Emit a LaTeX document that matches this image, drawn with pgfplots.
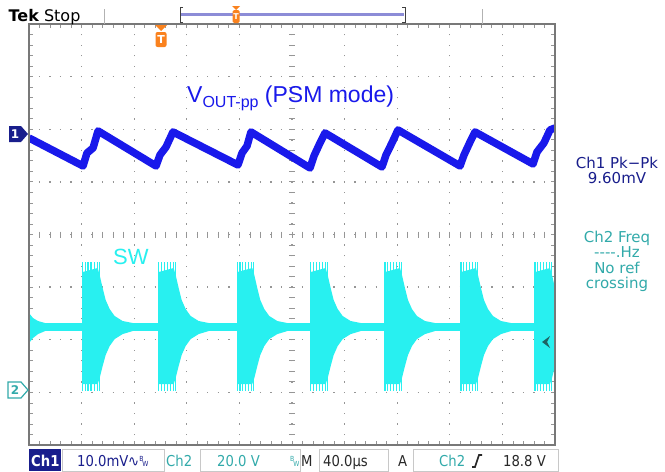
\documentclass[border=0pt]{standalone}
\usepackage{fontspec}
\setmainfont{Liberation Sans}
\newfontfamily\tekfont{DejaVu Sans}
\newfontfamily\teknarrow{DejaVu Sans}[FakeStretch=0.88]
\usepackage{pgfplots}
\pgfplotsset{compat=1.18}
\usepackage{pgfplotstable}

\definecolor{trace1}{RGB}{25,25,235}
\definecolor{trace2}{RGB}{40,240,240}
\definecolor{navy}{RGB}{25,30,140}
\definecolor{teal2}{RGB}{50,170,170}
\definecolor{darkteal}{RGB}{30,100,100}
\definecolor{tekorange}{RGB}{250,130,30}
\definecolor{gridgray}{RGB}{150,150,150}
\definecolor{framegray}{RGB}{120,120,120}
\definecolor{barblue}{RGB}{140,140,215}
\definecolor{boxgray}{RGB}{200,200,200}
\definecolor{txtdark}{RGB}{40,40,40}

% Ch1: output ripple (time in us, vertical in divisions)
\pgfplotstableread{
t y
0 1.835
41.1 1.302
44.1 1.549
48.7 1.644
52.5 1.968
96.6 1.302
99.6 1.511
104.2 1.663
109.5 1.949
158.9 1.321
162.0 1.549
165.8 1.682
168.8 1.949
213.7 1.264
216.7 1.492
221.3 1.740
225.1 1.930
268.4 1.283
271.5 1.511
276.0 1.740
280.6 1.987
327.8 1.302
330.8 1.511
335.4 1.759
339.2 1.949
383.3 1.340
386.3 1.568
391.6 1.740
396.2 1.987
400 2.025
}\chone

% Ch2: envelope of one switching burst (dt from burst start, in us)
\pgfplotstableread{
dt y
0 -0.713
11.41 -0.637
12.93 -0.770
15.21 -1.017
17.49 -1.245
20.53 -1.416
24.33 -1.549
30.42 -1.644
38.02 -1.682
38.02 -1.835
30.42 -1.892
24.33 -1.987
20.53 -2.120
17.49 -2.291
15.21 -2.500
12.93 -2.728
11.41 -2.842
0 -2.842
}\burst

% Ch2: full-height spikes at the start of each burst
\pgfplotstableread{
dt y e
0 -1.749 1.226
2.05 -1.749 1.226
4.18 -1.749 1.226
6.46 -1.749 1.226
8.75 -1.749 1.226
11.03 -1.749 1.226
12.55 -1.749 1.226
}\spikes

\begin{document}
\begin{tikzpicture}
\useasboundingbox (0,0) rectangle (665bp,-472bp);
\fill[white] (0,0) rectangle (665bp,-472bp);

% centre-line cross ticks of the graticule
\foreach \k in {0,...,50} {\draw[gridgray, line width=0.8bp] (29bp+\k*10.52bp,-231.5bp) -- ++(0,-6bp);}
\foreach \k in {0,...,40} {\draw[gridgray, line width=0.8bp] (289bp,-24bp-\k*10.525bp) -- ++(6bp,0);}

\begin{axis}[
  at={(29bp,-445bp)}, anchor=south west,
  scale only axis, width=526bp, height=421bp,
  xmin=0, xmax=400, ymin=-4, ymax=4,
  xtick={0,40,...,400}, ytick={-4,-3,...,4},
  minor x tick num=4, minor y tick num=4,
  xticklabels={}, yticklabels={},
  tick align=inside, major tick length=4bp, minor tick length=4bp,
  every tick/.style={gridgray, line width=0.8bp},
  grid=major,
  major grid style={gridgray, line width=1.3bp, dash pattern=on 1.3bp off 9.22bp, dash phase=0.65bp},
  axis line style={framegray, line width=2.5bp},
]
% Ch2 baseline
\addplot[trace2, line width=8bp] coordinates {(0,-1.753) (400,-1.753)};
% ringing at left edge
\addplot[fill=trace2, draw=none] coordinates {(0,-1.492) (3.04,-1.587) (6.84,-1.644) (12.17,-1.682) (12.17,-1.835) (6.84,-1.892) (3.04,-1.968) (0,-2.063)};
% bursts
\pgfplotsinvokeforeach{40.8,98.6,158.4,214.2,270.7,328.5,384.8}{
  \addplot[fill=trace2, draw=none] table[x expr=\thisrow{dt}+#1, y=y]{\burst};
  \addplot[trace2, only marks, mark=none, error bars/.cd, y dir=both, y explicit,
           error mark=none, error bar style={trace2, line width=1.3bp}]
     table[x expr=\thisrow{dt}+#1, y=y, y error=e]{\spikes};
}
% Ch1 ripple
\addplot[trace1, line width=7.5bp, line join=round] table[x=t, y=y]{\chone};
\end{axis}

% frame
\draw[framegray, line width=2.5bp] (29bp,-24bp) rectangle (555bp,-445bp);

% top bar
\node[anchor=base west, inner sep=0, text=black, font=\tekfont\fontsize{16bp}{16bp}\selectfont] at (8.5bp,-21bp) {\bfseries Tek\mdseries\ Stop};
\draw[gray!60, line width=1bp] (104bp,-9bp) -- (104bp,-24bp);
\draw[gray!60, line width=1bp] (482bp,-9bp) -- (482bp,-24bp);
\draw[barblue, line width=2.5bp] (181bp,-14.5bp) -- (404bp,-14.5bp);
\draw[darkgray, line width=1bp] (183bp,-7bp) -- (180bp,-7bp) -- (180bp,-22bp) -- (183bp,-22bp);
\draw[darkgray, line width=1bp] (402bp,-7bp) -- (405bp,-7bp) -- (405bp,-22bp) -- (402bp,-22bp);
\fill[tekorange] (232bp,-6bp) -- (240bp,-6bp) -- (236bp,-10bp) -- cycle;
\fill[tekorange, rounded corners=1.5bp] (232.5bp,-10bp) rectangle (239.5bp,-23bp);
\node[text=white, font=\tekfont\bfseries\fontsize{8bp}{8bp}\selectfont, inner sep=0] at (236bp,-16.5bp) {T};

% trigger position marker
\fill[tekorange] (155bp,-25bp) -- (167bp,-25bp) -- (161bp,-31bp) -- cycle;
\fill[tekorange, rounded corners=2bp] (155.5bp,-32bp) rectangle (166.5bp,-47bp);
\node[text=white, font=\tekfont\bfseries\fontsize{11bp}{11bp}\selectfont, inner sep=0] at (161bp,-39.5bp) {T};

% channel markers
\fill[navy] (9bp,-126bp) -- (21bp,-126bp) -- (28bp,-134bp) -- (21bp,-142bp) -- (9bp,-142bp) -- cycle;
\node[text=white, font=\tekfont\bfseries\fontsize{12bp}{12bp}\selectfont, inner sep=0] at (15bp,-134bp) {1};
\draw[teal2, line width=1.2bp, fill=white] (8bp,-382bp) -- (21bp,-382bp) -- (28bp,-390bp) -- (21bp,-398bp) -- (8bp,-398bp) -- cycle;
\node[text=teal2, font=\tekfont\bfseries\fontsize{12bp}{12bp}\selectfont, inner sep=0] at (15bp,-390bp) {2};
% trigger level arrow
\fill[darkteal] (542bp,-342bp) -- (550bp,-336bp) -- (547bp,-342bp) -- (550bp,-348bp) -- cycle;

% labels
\node[anchor=base west, inner sep=0, text=trace1, font=\fontsize{23bp}{23bp}\selectfont] at (187bp,-102bp) {V{\fontsize{16bp}{16bp}\selectfont\raisebox{-5bp}{OUT-pp}} (PSM mode)};
\node[anchor=base west, inner sep=0, text=trace2, font=\fontsize{22bp}{22bp}\selectfont] at (113bp,-264bp) {SW};

% measurement panel
\begin{scope}[every node/.style={anchor=base, inner sep=0, font=\tekfont\fontsize{15bp}{15bp}\selectfont}]
\node[text=navy] at (617bp,-168bp) {Ch1 Pk−Pk};
\node[text=navy] at (617bp,-183bp) {9.60mV};
\node[text=teal2] at (617bp,-242bp) {Ch2 Freq};
\node[text=teal2] at (617bp,-257bp) {-{}-{}-{}-.Hz};
\node[text=teal2] at (617bp,-273bp) {No ref};
\node[text=teal2] at (617bp,-288bp) {crossing};
\end{scope}

% bottom status bar
\fill[navy] (29bp,-449bp) rectangle (61bp,-471bp);
\draw[boxgray, line width=1bp] (62bp,-449bp) rectangle (164bp,-471bp);
\draw[boxgray, line width=1bp] (200bp,-449bp) rectangle (300bp,-471bp);
\draw[boxgray, line width=1bp] (319bp,-449bp) rectangle (388bp,-471bp);
\draw[boxgray, line width=1bp] (413bp,-449bp) rectangle (558bp,-471bp);
\begin{scope}[every node/.style={anchor=base west, inner sep=0, font=\teknarrow\fontsize{15bp}{15bp}\selectfont}]
\node[text=white, font=\teknarrow\bfseries\fontsize{15bp}{15bp}\selectfont] at (31bp,-466bp) {Ch1};
\node[text=navy] at (77bp,-466bp) {10.0mV};
\node[text=navy] at (128bp,-466bp) {∿{\fontsize{7bp}{7bp}\selectfont\raisebox{5bp}{B}\kern-1bp W}};
\node[text=teal2] at (166bp,-466bp) {Ch2};
\node[text=teal2] at (217bp,-466bp) {20.0 V};
\node[text=teal2] at (290bp,-466bp) {\fontsize{7bp}{7bp}\selectfont\raisebox{5bp}{B}\kern-1bp W};
\node[text=txtdark] at (301bp,-466bp) {M};
\node[text=txtdark] at (323bp,-466bp) {40.0µs};
\node[text=txtdark] at (398bp,-466bp) {A};
\node[text=teal2] at (439bp,-466bp) {Ch2};
\node[text=txtdark] at (503bp,-466bp) {18.8 V};
\end{scope}
\draw[txtdark, line width=1.6bp] (472bp,-467bp) -- (475bp,-467bp) -- (479bp,-455bp) -- (482bp,-455bp);
\end{tikzpicture}
\end{document}
